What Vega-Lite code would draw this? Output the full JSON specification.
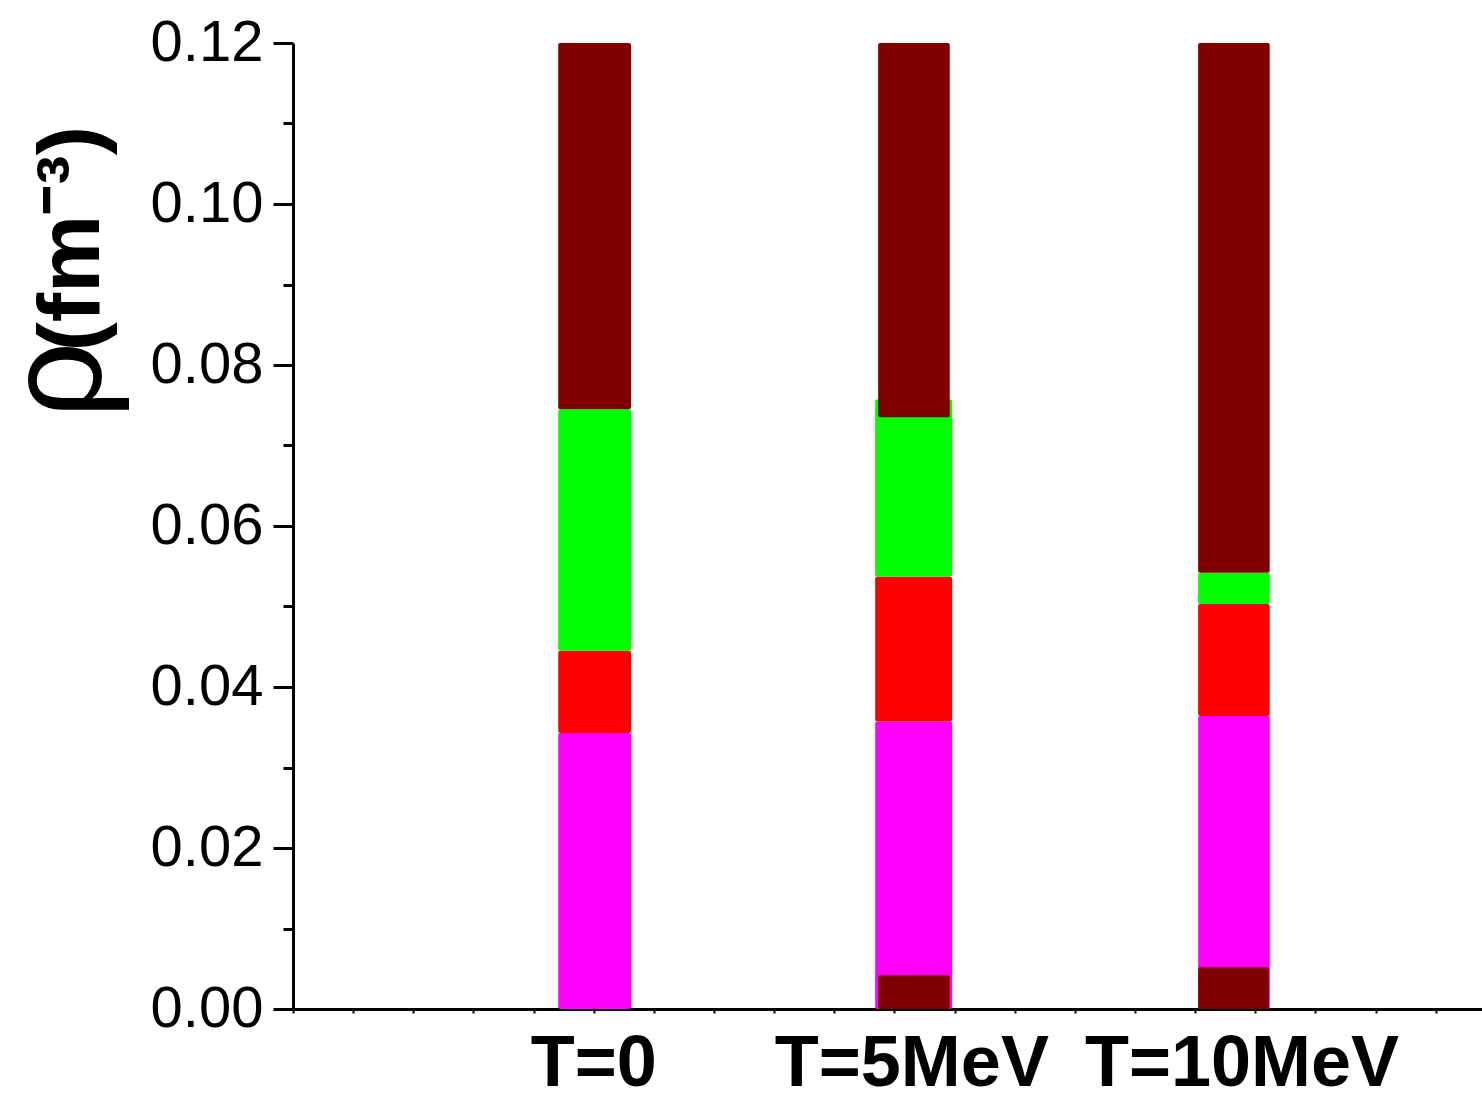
{
  "$schema": "https://vega.github.io/schema/vega-lite/v6.json",
  "width": 1189,
  "height": 966,
  "autosize": {"type": "none"},
  "padding": {"left": 293, "top": 43, "right": 0, "bottom": 85},
  "background": "white",
  "config": {"view": {"stroke": null}, "font": "Liberation Sans"},
  "datasets": {
    "segments": [
      {"T": "T=0", "phase": "droplet", "x0": 4.41, "x1": 5.62, "y0": 0.0, "y1": 0.0343},
      {"T": "T=0", "phase": "rod", "x0": 4.41, "x1": 5.62, "y0": 0.0343, "y1": 0.0445},
      {"T": "T=0", "phase": "slab", "x0": 4.41, "x1": 5.62, "y0": 0.0445, "y1": 0.0745},
      {"T": "T=0", "phase": "uniform", "x0": 4.41, "x1": 5.62, "y0": 0.0745, "y1": 0.12},
      {"T": "T=5MeV", "phase": "droplet", "x0": 9.68, "x1": 10.96, "y0": 0.0, "y1": 0.0357},
      {"T": "T=5MeV", "phase": "uniform", "x0": 9.73, "x1": 10.92, "y0": 0.0, "y1": 0.0042},
      {"T": "T=5MeV", "phase": "rod", "x0": 9.68, "x1": 10.96, "y0": 0.0357, "y1": 0.0537},
      {"T": "T=5MeV", "phase": "slab", "x0": 9.68, "x1": 10.96, "y0": 0.0537, "y1": 0.0757},
      {"T": "T=5MeV", "phase": "uniform", "x0": 9.73, "x1": 10.92, "y0": 0.0735, "y1": 0.12},
      {"T": "T=10MeV", "phase": "droplet", "x0": 15.05, "x1": 16.24, "y0": 0.0, "y1": 0.0364},
      {"T": "T=10MeV", "phase": "uniform", "x0": 15.05, "x1": 16.23, "y0": 0.0, "y1": 0.0052},
      {"T": "T=10MeV", "phase": "rod", "x0": 15.05, "x1": 16.24, "y0": 0.0364, "y1": 0.0503},
      {"T": "T=10MeV", "phase": "slab", "x0": 15.05, "x1": 16.24, "y0": 0.0503, "y1": 0.0542},
      {"T": "T=10MeV", "phase": "uniform", "x0": 15.05, "x1": 16.24, "y0": 0.0542, "y1": 0.12}
    ],
    "labels": [
      {"label": "T=0", "pos": 5.0},
      {"label": "T=5MeV", "pos": 10.29},
      {"label": "T=10MeV", "pos": 15.78}
    ]
  },
  "resolve": {"axis": {"y": "independent"}},
  "layer": [
    {
      "data": {"name": "segments"},
      "mark": {"type": "bar", "cornerRadius": 2},
      "encoding": {
        "x": {
          "field": "x0", "type": "quantitative",
          "scale": {"domain": [0, 19.77], "nice": false, "zero": false},
          "axis": {
            "title": null, "values": [0,1,2,3,4,5,6,7,8,9,10,11,12,13,14,15,16,17,18,19],
            "labels": false, "grid": false, "tickSize": 4, "tickWidth": 2, "tickColor": "black",
            "domainWidth": 3, "domainColor": "black"
          }
        },
        "x2": {"field": "x1"},
        "y": {
          "field": "y0", "type": "quantitative",
          "scale": {"domain": [0, 0.12], "nice": false},
          "axis": {
            "orient": "left",
            "values": [0, 0.02, 0.04, 0.06, 0.08, 0.1, 0.12],
            "format": ".2f", "grid": false,
            "labelFontSize": 58, "labelColor": "black", "labelPadding": 10, "labelFont": "Liberation Sans",
            "tickSize": 20, "tickWidth": 3, "tickColor": "black",
            "domainWidth": 3, "domainColor": "black",
            "title": "ρ", "titleFont": "Liberation Sans", "titleFontSize": 135, "titleFontWeight": "normal",
            "titleColor": "black", "titleAngle": -90, "titleAlign": "left", "titleBaseline": "alphabetic",
            "titleX": -193, "titleY": 375
          }
        },
        "y2": {"field": "y1"},
        "color": {
          "field": "phase", "type": "nominal",
          "scale": {"domain": ["droplet", "rod", "slab", "uniform"], "range": ["#FF00FF", "#FF0000", "#00FF00", "#800000"]},
          "legend": null
        }
      }
    },
    {
      "data": {"name": "labels"},
      "mark": {"type": "text", "fontSize": 72, "fontWeight": "bold", "font": "Liberation Sans", "align": "center", "baseline": "alphabetic", "dy": 77, "color": "black"},
      "encoding": {
        "x": {"field": "pos", "type": "quantitative"},
        "y": {
          "datum": 0, "type": "quantitative",
          "axis": {
            "orient": "left",
            "values": [0.01, 0.03, 0.05, 0.07, 0.09, 0.11],
            "labels": false, "domain": false, "grid": false,
            "tickSize": 10, "tickWidth": 3, "tickColor": "black",
            "title": "(fm⁻³)", "titleFont": "Liberation Sans", "titleFontSize": 88, "titleFontWeight": "bold",
            "titleColor": "black", "titleAngle": -90, "titleAlign": "left", "titleBaseline": "alphabetic",
            "titleX": -195, "titleY": 308, "titleLimit": 1000
          }
        },
        "text": {"field": "label"}
      }
    }
  ]
}
